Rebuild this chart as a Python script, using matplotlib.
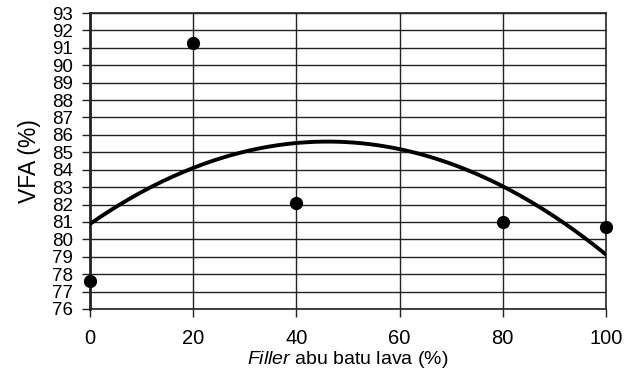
import numpy as np
import matplotlib
matplotlib.use("Agg")
import matplotlib.pyplot as plt

plt.rcParams["font.family"] = ["Liberation Sans", "DejaVu Sans"]
plt.rcParams["mathtext.fontset"] = "custom"
plt.rcParams["mathtext.rm"] = "Liberation Sans"
plt.rcParams["mathtext.it"] = "Liberation Sans:italic"

# data
filler = [0, 20, 40, 80, 100]
vfa = [77.6, 91.3, 82.1, 81.0, 80.7]
x_ticks = [0, 20, 40, 60, 80, 100]
y_ticks = list(range(76, 94))

# quadratic trendline through the points
coef = np.polyfit(filler, vfa, 2)
xs = np.linspace(0, 100, 200)
ys = np.polyval(coef, xs)

fig = plt.figure(figsize=(6.26, 3.74), dpi=100)
ax = fig.add_axes([0.1438, 0.1738, 0.8242, 0.7914])

for yv in y_ticks:
    ax.axhline(yv, color="#222222", lw=1.0, zorder=1)
for xv in x_ticks[1:-1]:
    ax.axvline(xv, color="#222222", lw=1.0, zorder=1)

ax.plot(xs, ys, color="black", lw=2.8, zorder=3)
ax.plot(filler, vfa, "o", color="black", ms=8.5, zorder=4, clip_on=False)

ax.set_xlim(0, 100)
ax.set_ylim(76, 93)
ax.set_xticks(x_ticks)
ax.set_yticks(y_ticks)
ax.tick_params(axis="both", direction="out", length=6, width=1, color="#222222")
ax.tick_params(axis="y", labelsize=13.5, pad=6)
ax.tick_params(axis="x", labelsize=14.5, pad=8.5)
for s in ax.spines.values():
    s.set_linewidth(1.2)
    s.set_color("#222222")
ax.spines["left"].set_linewidth(2)

ax.set_ylabel("VFA (%)", fontsize=16.5, labelpad=8)
ax.set_xlabel(r"$\it{Filler}$ abu batu lava (%)", fontsize=14, labelpad=0.5)

fig.savefig("out.png", dpi=100)
